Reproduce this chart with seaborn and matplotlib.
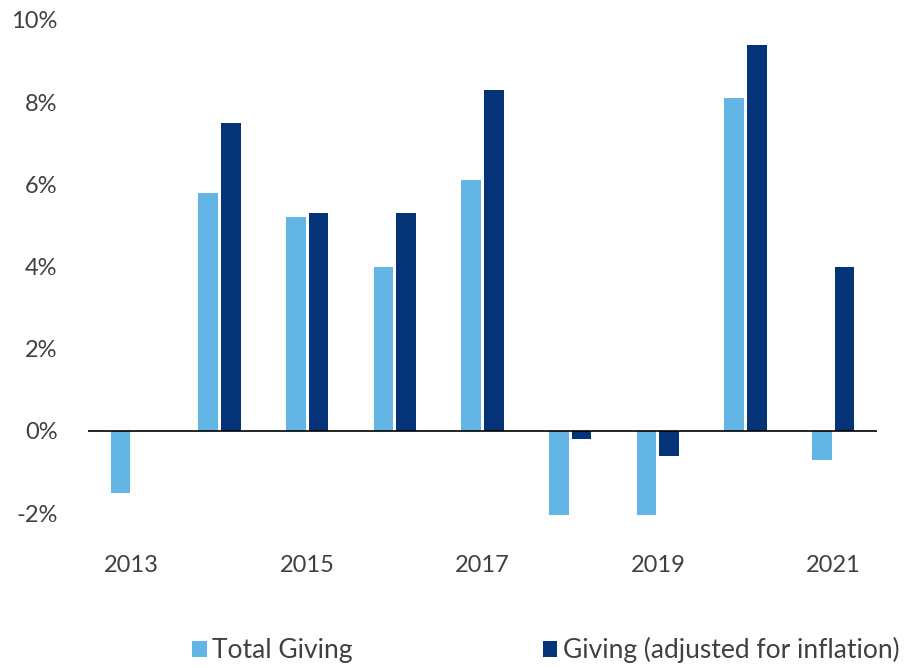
import matplotlib
matplotlib.use("Agg")
import matplotlib.pyplot as plt
import seaborn as sns
import pandas as pd

# Données
years = ["2013", "2014", "2015", "2016", "2017", "2018", "2019", "2020", "2021"]
total_giving = [-1.5, 5.8, 5.2, 4.0, 6.1, -2.05, -2.05, 8.1, -0.7]
adjusted_giving = [0.0, 7.5, 5.3, 5.3, 8.3, -0.2, -0.6, 9.4, 4.0]
series_names = ["Total Giving", "Giving (adjusted for inflation)"]
colors = ["#62B5E5", "#043378"]

df = pd.DataFrame({
    "year": years * 2,
    "value": total_giving + adjusted_giving,
    "series": [series_names[0]] * len(years) + [series_names[1]] * len(years),
})

sns.set_theme(style="white")
plt.rcParams["font.family"] = ["Lato", "DejaVu Sans"]
text_color = "#404040"

fig = plt.figure(figsize=(9.22, 6.67), dpi=100)
ax = fig.add_axes([88 / 922, 1 - 517.3 / 667, (877 - 88) / 922, (517.3 - 20) / 667])

sns.barplot(
    data=df, x="year", y="value", hue="series",
    palette=colors, width=0.52, gap=0.14, ax=ax,
    edgecolor="none", saturation=1,
)

ax.axhline(0, color="black", linewidth=1.2, zorder=3)
ax.set_ylim(-2.1, 10)
ax.set_xlim(-0.5, len(years) - 0.5)
ax.set_yticks(range(-2, 11, 2))
ax.set_yticklabels([f"{v}%" for v in range(-2, 11, 2)])
ax.set_xticks(range(0, len(years), 2))
ax.set_xticklabels(years[::2])
ax.tick_params(axis="y", length=0, pad=22, labelsize=17, labelcolor=text_color)
ax.tick_params(axis="x", length=0, pad=27, labelsize=17, labelcolor=text_color)
ax.set_xlabel("")
ax.set_ylabel("")
for s in ax.spines.values():
    s.set_visible(False)

handles, labels = ax.get_legend_handles_labels()
ax.get_legend().remove()
fig.legend(
    handles, labels, loc="lower center", bbox_to_anchor=(0.592, -0.03),
    ncol=2, frameon=False, fontsize=19, labelcolor=text_color,
    handlelength=0.55, handleheight=0.55, handletextpad=0.2, columnspacing=7.2,
)

fig.savefig("out.png", dpi=100)
